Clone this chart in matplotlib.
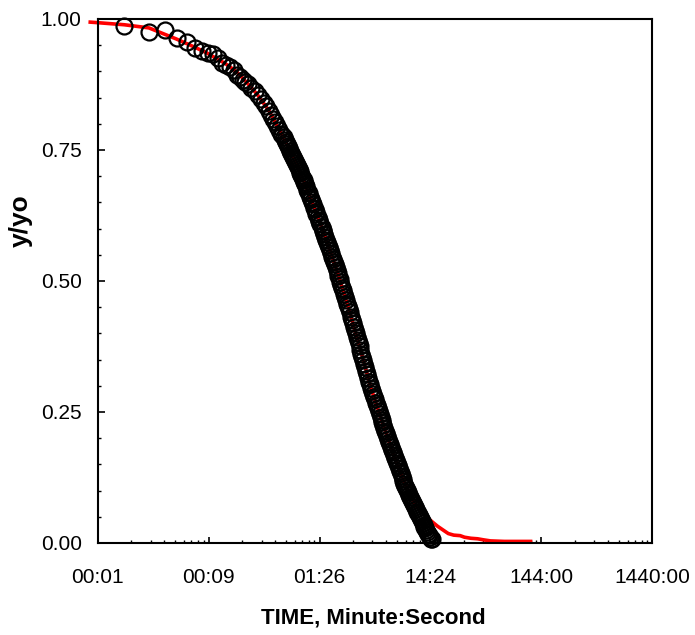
import matplotlib
matplotlib.use("Agg")
import matplotlib.pyplot as plt
import numpy as np
from matplotlib.ticker import FixedLocator, FixedFormatter, LogLocator, NullFormatter

plt.rcParams["font.family"] = ["Liberation Sans", "DejaVu Sans"]

# measured points (time in seconds, y/yo)
obs_time_s = [
    1.5, 2.5, 3.5, 4.5, 5.5, 6.5, 7.5, 8.5, 9.5, 10.5, 11.5, 12.5, 13.5, 14.5,
    15.5, 16.5, 17.5, 18.5, 19.5, 21, 22.5, 24, 25.5, 27, 28.5, 30, 31.5, 33,
    34.5, 36, 37.5, 39,
    40, 41, 42, 43, 44, 45, 46, 47, 48, 49,
    50, 51, 52, 53, 54, 55, 56, 57, 58, 59,
    60, 61, 62, 63, 64, 65, 67, 68, 69, 71,
    72, 74, 75, 77, 78, 80, 81, 83, 85, 86,
    88, 90, 92, 93, 95, 97, 99, 101, 103, 105,
    107, 109, 112, 114, 116, 118, 121, 123, 126, 128,
    131, 133, 136, 139, 141, 144, 147, 150, 153, 156,
    159, 162, 166, 169, 172, 176, 179, 183, 187, 190,
    194, 198, 202, 206, 210, 214, 219, 223, 228, 232,
    237, 242, 246, 251, 256, 262, 267, 272, 278, 283,
    289, 295, 301, 307, 313, 319, 325, 332, 339, 345,
    352, 359, 367, 374, 381, 389, 397, 405, 413, 421,
    430, 438, 447, 456, 465, 474, 484, 493, 503, 513,
    524, 534, 545, 556, 567, 578, 590, 602, 614, 626,
    639, 651, 664, 678, 691, 705, 719, 734, 748, 763,
    779, 794, 810, 826, 843, 860, 877, 886,
]
obs_ratio = [
    0.987, 0.976, 0.979, 0.963, 0.957, 0.944, 0.938, 0.936, 0.934, 0.926,
    0.916, 0.912, 0.909, 0.902, 0.894, 0.889, 0.884, 0.879, 0.875, 0.869,
    0.862, 0.855, 0.847, 0.840, 0.833, 0.825, 0.817, 0.810, 0.803, 0.795,
    0.788, 0.781,
    0.778, 0.774, 0.769, 0.765, 0.761, 0.757, 0.753, 0.749, 0.745, 0.741,
    0.737, 0.733, 0.729, 0.725, 0.721, 0.717, 0.713, 0.710, 0.706, 0.702,
    0.699, 0.695, 0.692, 0.688, 0.685, 0.681, 0.674, 0.670, 0.667, 0.660,
    0.656, 0.650, 0.647, 0.640, 0.637, 0.631, 0.628, 0.622, 0.617, 0.614,
    0.608, 0.603, 0.597, 0.595, 0.589, 0.584, 0.579, 0.574, 0.569, 0.564,
    0.559, 0.554, 0.546, 0.542, 0.537, 0.532, 0.526, 0.521, 0.515, 0.510,
    0.503, 0.499, 0.492, 0.486, 0.482, 0.475, 0.469, 0.463, 0.457, 0.452,
    0.446, 0.440, 0.432, 0.426, 0.420, 0.413, 0.407, 0.400, 0.393, 0.388,
    0.381, 0.375, 0.368, 0.361, 0.355, 0.349, 0.341, 0.335, 0.328, 0.322,
    0.315, 0.308, 0.303, 0.296, 0.291, 0.284, 0.279, 0.274, 0.268, 0.263,
    0.257, 0.251, 0.246, 0.240, 0.235, 0.230, 0.225, 0.219, 0.214, 0.209,
    0.204, 0.199, 0.193, 0.188, 0.183, 0.178, 0.173, 0.168, 0.163, 0.158,
    0.153, 0.148, 0.143, 0.138, 0.133, 0.128, 0.123, 0.118, 0.113, 0.109,
    0.105, 0.101, 0.097, 0.092, 0.088, 0.084, 0.080, 0.076, 0.072, 0.068,
    0.064, 0.060, 0.057, 0.053, 0.049, 0.046, 0.042, 0.038, 0.035, 0.031,
    0.028, 0.024, 0.021, 0.018, 0.015, 0.012, 0.008, 0.007,
]

# model curve (time in seconds, y/yo)
fit_time_s = [
    0.74, 0.86, 1.5, 2.5, 4.4, 5.9, 8.2, 12.2, 15.5, 19, 23.5, 30, 35, 40, 50,
    63, 80, 100, 126, 158, 200, 251, 316, 398, 501, 631, 794, 900, 1000, 1100,
    1250, 1400, 1600, 1750, 2000, 2300, 2600, 3000, 4000, 5500, 6900,
]
fit_ratio = [
    0.994, 0.993, 0.989, 0.983, 0.962, 0.950, 0.936, 0.915, 0.899, 0.879,
    0.857, 0.826, 0.800, 0.777, 0.736, 0.688, 0.632, 0.577, 0.515, 0.447,
    0.372, 0.296, 0.232, 0.172, 0.116, 0.072, 0.050, 0.040, 0.032, 0.026,
    0.018, 0.015, 0.014, 0.011, 0.009, 0.008, 0.006, 0.004, 0.003, 0.003,
    0.003,
]

x_tick_days = [1e-5, 1e-4, 1e-3, 1e-2, 1e-1, 1]
x_tick_labels = ["00:01", "00:09", "01:26", "14:24", "144:00", "1440:00"]
y_ticks = [0.0, 0.25, 0.5, 0.75, 1.0]

SEC_PER_DAY = 86400.0
obs_days = np.array(obs_time_s) / SEC_PER_DAY
fit_days = np.array(fit_time_s) / SEC_PER_DAY

fig = plt.figure(figsize=(6.95, 6.35), dpi=100)
ax = fig.add_axes([0.1406, 0.1449, 0.798, 0.8252])

ax.plot(fit_days, fit_ratio, color="red", lw=2.6, zorder=2, clip_on=False)
ax.plot(obs_days, obs_ratio, ls="none", marker="o", ms=11.5, mfc="none",
        mec="black", mew=1.6, zorder=3, clip_on=False)

ax.set_xscale("log")
ax.set_xlim(1e-5, 1)
ax.set_ylim(0, 1)

ax.xaxis.set_major_locator(FixedLocator(x_tick_days))
ax.xaxis.set_major_formatter(FixedFormatter(x_tick_labels))
ax.xaxis.set_minor_locator(LogLocator(base=10, subs=np.arange(2, 10), numticks=20))
ax.xaxis.set_minor_formatter(NullFormatter())
ax.set_yticks(y_ticks)
ax.set_yticklabels([f"{v:.2f}" for v in y_ticks])
ax.set_yticks(np.arange(0, 1.001, 0.05), minor=True)

ax.tick_params(axis="x", which="major", direction="in", length=4, width=1.2,
               pad=18, labelsize=15)
ax.tick_params(axis="y", which="major", direction="in", length=5, width=1.2,
               pad=11.5, labelsize=15)
ax.tick_params(which="minor", direction="in", length=2.2, width=1.0)

for s in ax.spines.values():
    s.set_linewidth(1.5)

ax.set_xlabel("TIME, Minute:Second", fontsize=16, fontweight="bold")
ax.set_ylabel("y/yo", fontsize=19, fontweight="bold")
ax.xaxis.set_label_coords(0.497, -0.124)
ax.yaxis.set_label_coords(-0.117, 0.615)

fig.savefig("out.png", dpi=100)
